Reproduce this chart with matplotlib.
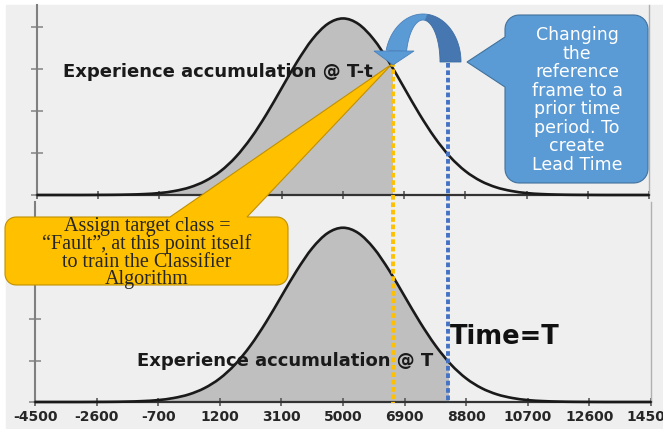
import numpy as np
import matplotlib
matplotlib.use('Agg')
import matplotlib.pyplot as plt
from matplotlib.patches import Polygon, Rectangle, PathPatch
from matplotlib.path import Path

W, H = 663, 429

# shared x axis
x_min, x_max = -4500, 14500
x_ticks = [-4500, -2600, -700, 1200, 3100, 5000, 6900, 8800, 10700, 12600, 14500]
y_ticks = [0, 5e-5, 1e-4, 1.5e-4, 2e-4]

# experience curve, one point every 475 units (x 1e-5)
curve_x = np.arange(-4500, 14501, 475)
curve_y = np.array([0, 0, 0, 0, 0.01, 0.02, 0.05, 0.11, 0.23, 0.48, 0.92,
                    1.67, 2.84, 4.54, 6.82, 9.61, 12.74, 15.85, 18.53, 20.35,
                    21.0,
                    20.35, 18.53, 15.85, 12.74, 9.61, 6.82, 4.54, 2.84, 1.67,
                    0.92, 0.48, 0.23, 0.11, 0.05, 0.02, 0.01, 0, 0, 0, 0]) * 1e-5

# the two reference points: prior time T-t and time T
t_prior = 6550
t_now = 8260

YELLOW = '#FFC000'
BLUE = '#5B9BD5'


def px_axes(fig, left, top, right, bottom):
    # axes placed with pixel edges (y measured from the top)
    return fig.add_axes([left / W, 1 - bottom / H, (right - left) / W, (bottom - top) / H])


def smooth_path(x, y):
    # excel style smoothed line: catmull-rom turned into cubic beziers
    p = np.column_stack([x, y])
    ext = np.vstack([p[0], p, p[-1]])
    verts = [p[0]]
    for i in range(1, len(ext) - 2):
        c1 = ext[i] + (ext[i + 1] - ext[i - 1]) / 6
        c2 = ext[i + 1] - (ext[i + 2] - ext[i]) / 6
        verts += [c1, c2, ext[i + 1]]
    codes = [Path.MOVETO] + [Path.CURVE4] * (len(verts) - 1)
    return verts, codes


def draw_panel(ax, cut, ytop, labels):
    verts, codes = smooth_path(curve_x, curve_y)

    area = Path(verts + [(curve_x[-1], 0), (curve_x[0], 0), (0, 0)],
                codes + [Path.LINETO, Path.LINETO, Path.CLOSEPOLY])
    fill = PathPatch(area, facecolor='#bfbfbf', lw=0, zorder=1)
    ax.add_patch(fill)
    fill.set_clip_path(Rectangle((x_min, 0), cut - x_min, ytop, transform=ax.transData))

    ax.add_patch(PathPatch(Path(verts, codes), fill=False, edgecolor='#1a1a1a', lw=1.9,
                           zorder=3, clip_on=False, joinstyle='round'))

    ax.set_xlim(x_min, x_max)
    ax.set_ylim(0, ytop)
    ax.set_facecolor('none')
    ax.set_xticks(x_ticks)
    ax.set_yticks(y_ticks)
    ax.set_yticklabels([])
    if labels:
        ax.set_xticklabels([str(t) for t in x_ticks], fontsize=10, fontweight='bold',
                           color='#262626')
    else:
        ax.set_xticklabels([])

    ax.spines['top'].set_visible(False)
    ax.spines['left'].set_color('#7f7f7f')
    ax.spines['left'].set_linewidth(1.5)
    ax.spines['right'].set_color('#b0b0b0')
    ax.spines['right'].set_linewidth(1)
    ax.spines['bottom'].set_color('#333333')
    ax.spines['bottom'].set_linewidth(1.6)
    ax.tick_params(axis='x', direction='inout', length=6, width=1.2, color='#595959', pad=3)
    ax.tick_params(axis='y', direction='inout', length=8, width=1.2, color='#8c8c8c')


def rounded_callout(x0, y0, x1, y1, r, side, a, b, tip, n=8):
    # rounded box with a pointer, pixel coords with y going down
    def arc(cx, cy, t0, t1):
        t = np.linspace(t0, t1, n)
        return list(zip(cx + r * np.cos(t), cy + r * np.sin(t)))
    pts = arc(x0 + r, y0 + r, np.pi, 1.5 * np.pi)
    if side == 'top':
        pts += [(a, y0), tip, (b, y0)]
    pts += arc(x1 - r, y0 + r, 1.5 * np.pi, 2 * np.pi)
    pts += arc(x1 - r, y1 - r, 0, 0.5 * np.pi)
    pts += arc(x0 + r, y1 - r, 0.5 * np.pi, np.pi)
    if side == 'left':
        pts += [(x0, a), tip, (x0, b)]
    return pts


def arc_band(cx, cy, ao, bo, ai, bi, t0, t1, n=40):
    t = np.linspace(t0, t1, n)
    outer = np.column_stack([cx + ao * np.cos(t), cy - bo * np.sin(t)])
    inner = np.column_stack([cx + ai * np.cos(t[::-1]), cy - bi * np.sin(t[::-1])])
    return np.vstack([outer, inner])


fig = plt.figure(figsize=(W / 100, H / 100), dpi=100, facecolor='white')
fig.patches.append(Rectangle((6 / W, 0), 1, 1 - 5 / H, transform=fig.transFigure,
                             color='#efefef', zorder=-1))

ax_top = px_axes(fig, 37, 5, 649, 195)
draw_panel(ax_top, t_prior, 2.26e-4, labels=False)

ax_bot = px_axes(fig, 35, 202, 651, 402)
draw_panel(ax_bot, t_now, 2.41e-4, labels=True)

# overlay in pixel coordinates for the annotations
ov = fig.add_axes([0, 0, 1, 1], zorder=5)
ov.set_xlim(0, W)
ov.set_ylim(H, 0)
ov.axis('off')


def to_px(val):
    return ax_top.transData.transform((val, 0))[0]


# dotted markers running through both panels
ov.plot([to_px(t_prior)] * 2, [62, 403], color=YELLOW, lw=2.8, ls=(0, (1.2, 0.7)), zorder=2)
ov.plot([to_px(t_now)] * 2, [63, 403], color='#4472C4', lw=2.8, ls=(0, (1.2, 0.7)), zorder=2)

# yellow callout
ov.add_patch(Polygon(rounded_callout(5, 217, 288, 285, 11, 'top', 170, 247, (392, 64)),
                     closed=True, facecolor=YELLOW, edgecolor='#C09000', lw=0.8, zorder=3))
ov.text(147, 253, 'Assign target class =\n\u201cFault\u201d, at this point itself\n'
        'to train the Classifier\nAlgorithm', ha='center', va='center',
        family='Liberation Serif', fontsize=14.5, color='#262626', linespacing=0.9, zorder=4)

# blue callout
ov.add_patch(Polygon(rounded_callout(505, 15, 648, 183, 14, 'left', 87, 37, (467, 62)),
                     closed=True, facecolor=BLUE, edgecolor='#41719C', lw=0.8, zorder=3))
ov.text(577, 100, 'Changing\nthe\nreference\nframe to a\nprior time\nperiod. To\ncreate\nLead Time',
        ha='center', va='center', fontsize=12.5, color='white', linespacing=1.04, zorder=4)

# curved arrow going back in time
ov.add_patch(Polygon(arc_band(423, 62, 38, 48, 17, 42, 0, 1.45), closed=True,
                     facecolor='#4677B0', edgecolor='#3d6da3', lw=0.6, zorder=3))
ov.add_patch(Polygon(arc_band(423, 62, 38, 48, 17, 42, 1.45, np.pi - 0.25), closed=True,
                     facecolor=BLUE, edgecolor='#4a80bb', lw=0.6, zorder=3))
ov.add_patch(Polygon([(374, 51), (414, 51), (393, 65)], closed=True,
                     facecolor=BLUE, edgecolor='#4a80bb', lw=0.6, zorder=3))

# labels
ov.text(63, 72, 'Experience accumulation @ T-t', ha='left', va='center', fontsize=13,
        fontweight='bold', color='#1a1a1a', zorder=5)
ov.text(137, 361, 'Experience accumulation @ T', ha='left', va='center', fontsize=13,
        fontweight='bold', color='#1a1a1a', zorder=5)
ov.text(450, 337, 'Time=T', ha='left', va='center', fontsize=18.5,
        fontweight='bold', color='#111111', zorder=5)

fig.savefig('out.png', dpi=100)
